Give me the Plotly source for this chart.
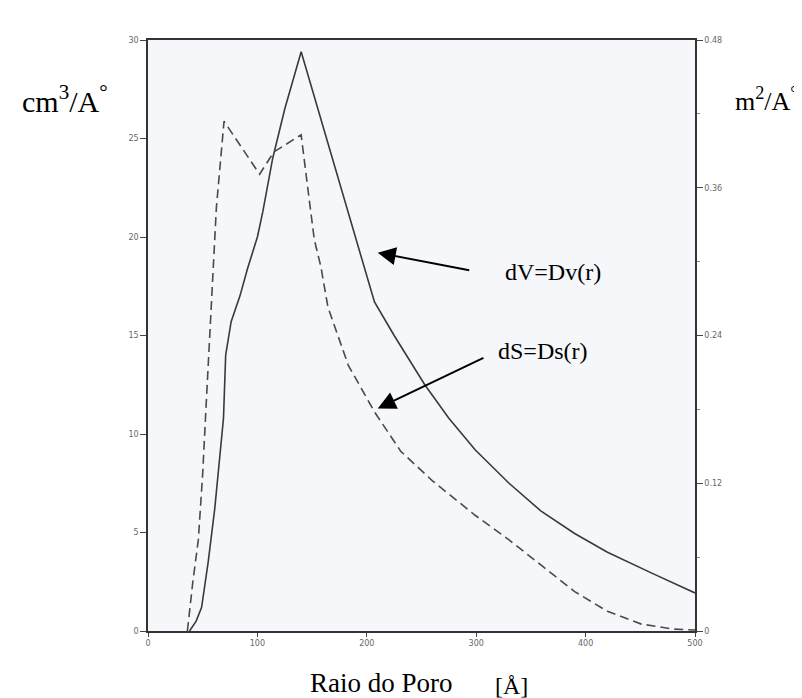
import plotly.graph_objects as go

# Pore radius (Å) and distribution values
r_dv = [38, 44, 49, 55, 61, 65, 69, 71, 76, 84, 91, 100, 105, 114, 125, 140,
        169, 195, 207, 225, 253, 275, 299, 330, 359, 390, 420, 460, 500]
dv = [0, 0.5, 1.2, 3.5, 6.2, 8.5, 10.8, 14.0, 15.7, 17.0, 18.4, 20.0, 21.3, 24.0, 26.5, 29.4,
      23.9, 19.1, 16.7, 15.0, 12.5, 10.8, 9.2, 7.5, 6.1, 4.95, 4.0, 2.95, 1.93]

r_ds = [36, 41, 46, 50, 53, 58, 62.5, 69.5, 86, 102, 115, 140, 146, 152, 158, 164.5,
        183, 207, 231, 260, 299, 330, 360, 390, 420, 451, 480, 500]
ds = [0, 0.04, 0.074, 0.128, 0.181, 0.262, 0.344, 0.414, 0.392, 0.371, 0.389, 0.403, 0.36,
      0.318, 0.296, 0.263, 0.216, 0.178, 0.146, 0.122, 0.094, 0.074, 0.053, 0.032, 0.016,
      0.0056, 0.0016, 0.0008]

x_ticks = [0, 100, 200, 300, 400, 500]
y_left_ticks = [0, 5, 10, 15, 20, 25, 30]
y_right_ticks = [0, 0.12, 0.24, 0.36, 0.48]
y_right_labels = ["0", "0.12", "0.24", "0.36", "0.48"]

tick_font = dict(family="DejaVu Sans", size=8, color="#666")
serif = "Liberation Serif"

fig = go.Figure()
fig.add_trace(go.Scatter(x=r_dv, y=dv, mode="lines", name="dV=Dv(r)",
                         line=dict(color="#3a3a3a", width=1.6), yaxis="y"))
fig.add_trace(go.Scatter(x=r_ds, y=ds, mode="lines", name="dS=Ds(r)",
                         line=dict(color="#4a4a4a", width=1.6, dash="9px,5px"), yaxis="y2"))

fig.update_layout(
    width=802, height=698,
    margin=dict(l=140, r=115, t=32, b=75),
    paper_bgcolor="white",
    plot_bgcolor="#f6f7fa",
    showlegend=False,
    xaxis=dict(range=[0, 500], tickvals=x_ticks, ticktext=[str(v) for v in x_ticks],
               showline=True, linecolor="#333", linewidth=1.5, mirror=True,
               ticks="outside", ticklen=4, tickcolor="#444", showgrid=False,
               zeroline=False, tickfont=tick_font),
    yaxis=dict(range=[0, 30], tickvals=y_left_ticks, ticktext=[str(v) for v in y_left_ticks],
               showline=True, linecolor="#333", linewidth=1.5,
               ticks="outside", ticklen=6, tickcolor="#444", showgrid=False,
               zeroline=False, tickfont=tick_font),
    yaxis2=dict(range=[0, 0.48], tickvals=y_right_ticks, ticktext=y_right_labels,
                overlaying="y", side="right",
                showline=True, linecolor="#333", linewidth=1.5,
                ticks="outside", ticklen=6, tickcolor="#444", showgrid=False,
                zeroline=False, tickfont=tick_font,
                minor=dict(dtick=0.06, ticks="outside", ticklen=3, tickcolor="#888")),
)

annotations = [
    dict(text="cm<sup>3</sup>/A<sup>°</sup>", xref="paper", yref="paper",
         x=-0.234, y=0.90, xanchor="left", yanchor="middle", showarrow=False,
         font=dict(family=serif, size=30, color="black"), bgcolor="white"),
    dict(text="m<sup>2</sup>/A<sup>°</sup>", xref="paper", yref="paper",
         x=1.07, y=0.90, xanchor="left", yanchor="middle", showarrow=False,
         font=dict(family=serif, size=26, color="black"), bgcolor="white"),
    dict(text="Raio do Poro", xref="paper", yref="paper",
         x=0.426, y=-0.088, xanchor="center", yanchor="middle", showarrow=False,
         font=dict(family=serif, size=27, color="black")),
    dict(text="[Å]", xref="paper", yref="paper",
         x=0.665, y=-0.093, xanchor="center", yanchor="middle", showarrow=False,
         font=dict(family=serif, size=24, color="black"), bgcolor="white"),
    dict(text="dV=Dv(r)", xref="x", yref="y", x=370, y=18.2,
         xanchor="center", yanchor="middle", showarrow=False,
         font=dict(family=serif, size=24, color="black")),
    dict(text="dS=Ds(r)", xref="x", yref="y", x=361, y=14.2,
         xanchor="center", yanchor="middle", showarrow=False,
         font=dict(family=serif, size=24, color="black")),
    dict(text="", xref="x", yref="y", x=210, y=19.2, axref="x", ayref="y",
         ax=295, ay=18.3, showarrow=True, arrowhead=2, arrowsize=1.8,
         arrowwidth=2, arrowcolor="black"),
    dict(text="", xref="x", yref="y", x=210, y=11.3, axref="x", ayref="y",
         ax=308, ay=13.9, showarrow=True, arrowhead=2, arrowsize=1.8,
         arrowwidth=2, arrowcolor="black"),
]
fig.update_layout(annotations=annotations)

fig.write_html("out.html")
